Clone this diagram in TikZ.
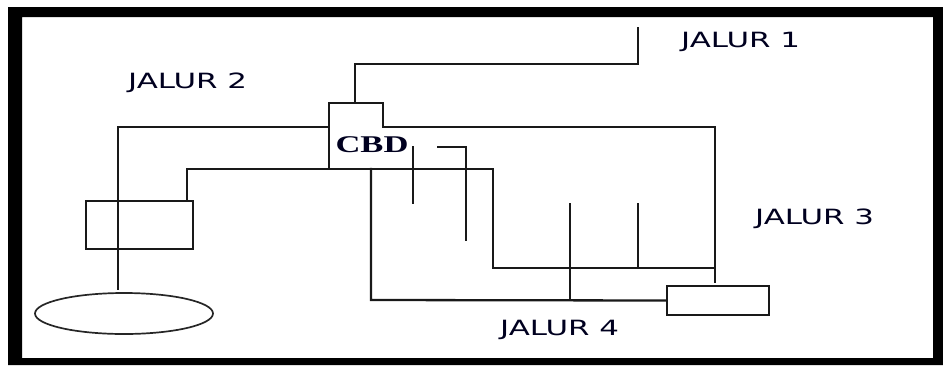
\documentclass[tikz,border=0pt]{standalone}
\usepackage{fontspec}
\setmainfont{Liberation Serif}
\newfontfamily\labelfont{DejaVu Sans}
\usetikzlibrary{shapes.geometric}

\tikzset{
  wire/.style={draw=black!90, line width=2.3pt, line cap=rect},
  unitbox/.style={draw=black!90, line width=2.3pt, rectangle, inner sep=0pt},
  pond/.style={draw=black!85, line width=1.7pt, ellipse, inner sep=0pt},
  jalur/.style={anchor=west, inner sep=0pt, text=black!88!blue,
    font=\labelfont\fontsize{21}{21}\selectfont},
  cbdtext/.style={inner sep=0pt, text=black!88!blue,
    font=\bfseries\fontsize{24}{24}\selectfont}
}

\begin{document}
\begin{tikzpicture}[x=1pt, y=-1pt]
  \useasboundingbox (0,0) rectangle (943,365);

  % outer frame
  \fill[black, even odd rule] (8,7) rectangle (943,365) (22,17) rectangle (933,358);

  % route labels
  \node[jalur] (j1) at (681,42) {\scalebox{1.47}[1]{JALUR 1}};
  \node[jalur] (j2) at (128,83) {\scalebox{1.47}[1]{JALUR 2}};
  \node[jalur] (j3) at (755,219) {\scalebox{1.47}[1]{JALUR 3}};
  \node[jalur] (j4) at (500,330) {\scalebox{1.47}[1]{JALUR 4}};

  % units
  \node[unitbox, minimum width=107pt, minimum height=48pt] (lbox) at (139.5,225) {};
  \node[unitbox, minimum width=102pt, minimum height=29pt] (rbox) at (718,300.5) {};
  \node[pond, minimum width=178pt, minimum height=41pt] (pond) at (124,313.5) {};

  % CBD block
  \coordinate (cbdTL) at (329,103);
  \coordinate (cbdTR) at (383,103);
  \coordinate (cbdR)  at (383,127);
  \coordinate (cbdL)  at (329,127);
  \coordinate (cbdBL) at (329,169);
  \node[cbdtext] (cbd) at (372,145) {\scalebox{1.44}[1]{CBD}};
  \draw[wire] (cbdBL) -- (cbdTL) -- (cbdTR) -- (cbdR);

  % JALUR 1 feed
  \coordinate (in1) at (638,28);
  \coordinate (in1b) at (638,64);
  \coordinate (cbdTop) at (355,64);
  \draw[wire] (in1) -- (in1b) -- (cbdTop) -- (cbdTop |- cbdTL);

  % upper trunk (JALUR 2 / JALUR 3)
  \coordinate (w2) at (118,127);
  \coordinate (e3) at (715,127);
  \coordinate (e3end) at (715,282);
  \draw[wire] (pond.north -| w2) ++(0,-3) -- (w2) -- (cbdL);
  \draw[wire] (cbdR) -- (e3) -- (e3end);

  % lower trunk
  \coordinate (lw) at (187,169);
  \coordinate (le) at (493,169);
  \coordinate (ld) at (493,268);
  \coordinate (ldE) at (715,268);
  \draw[wire] (lbox.north -| lw) -- (lw) -- (le) -- (ld) -- (ldE);

  % JALUR 4 loop
  \coordinate (l4) at (371,169);
  \coordinate (l4b) at (371,300);
  \draw[wire] (l4) -- (l4b) -- (rbox.west);

  % branches
  \coordinate (b1t) at (413,147);
  \coordinate (b1b) at (413,203);
  \draw[wire] (b1t) -- (b1b);
  \coordinate (b2s) at (438,147);
  \coordinate (b2t) at (466,147);
  \coordinate (b2b) at (466,240);
  \draw[wire] (b2s) -- (b2t) -- (b2b);
  \coordinate (b3t) at (570,204);
  \coordinate (b3b) at (570,300);
  \draw[wire] (b3t) -- (b3b);
  \coordinate (b4t) at (638,204);
  \coordinate (b4b) at (638,268);
  \draw[wire] (b4t) -- (b4b);
\end{tikzpicture}
\end{document}
